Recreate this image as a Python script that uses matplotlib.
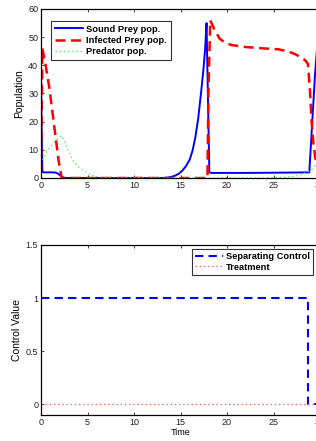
import matplotlib
matplotlib.use("Agg")
from matplotlib import pyplot as plt

plt.rcParams['font.family'] = ['Liberation Sans', 'DejaVu Sans']

# sound prey (blue solid)
t_sound = [0, 0.05, 0.15, 0.3, 1.2, 1.6, 1.9, 2.2, 2.5, 13.0, 13.6, 14.0, 14.4, 14.8, 15.2,
           15.6, 16.0, 16.3, 16.6, 16.9, 17.2, 17.45, 17.65, 17.8, 18.1, 18.3, 22, 26,
           28.85, 29.46, 30]
p_sound = [40, 20, 2.2, 2.0, 2.0, 1.9, 1.4, 0.5, 0, 0, 0.15, 0.4, 0.8, 1.5, 2.6,
           4.3, 6.6, 9.8, 14.5, 21, 30, 38, 46, 55, 2, 1.8, 1.8, 1.9,
           2, 36.5, 60]

# infected prey (red dashed)
t_inf = [0, 0.15, 0.5, 0.9, 1.4, 1.9, 2.2, 2.35, 17.9, 18.0, 18.2, 18.6, 19.2, 19.8,
         20.5, 22, 24, 25.5, 26.5, 27.3, 28.0, 28.4, 28.7, 28.9, 29.1, 29.3, 29.5, 29.8, 30]
p_inf = [2, 46, 40, 32, 19, 6, 0.5, 0, 0, 30, 56, 53, 49.5, 48,
         47.2, 46.5, 46, 45.7, 45, 44, 42.8, 41.8, 40.5, 32, 20, 12, 7, 3, 1]

# predator (green dotted)
t_pred = [0, 0.5, 1.0, 1.5, 2.15, 2.5, 2.9, 3.4, 4.0, 4.5, 5.4, 6.2, 7.5, 24, 26, 26.8,
          27.8, 28.6, 29.1, 29.5, 30]
p_pred = [5, 8.8, 11, 13, 15, 13.5, 10, 6.4, 4, 2.8, 1, 0.4, 0, 0, 0.2, 0.4,
          1.0, 2, 3, 4.5, 6]

# controls
t_ctrl = [0, 28.75, 28.75, 30]
u_sep = [1, 1, 0, 0]
t_treat = [0, 30]
u_treat = [0, 0]

fig = plt.figure(figsize=(3.16, 4.41), dpi=100)
ax1 = fig.add_axes([41 / 316, 1 - 178 / 441, 279 / 316, 169 / 441])
ax2 = fig.add_axes([41 / 316, 1 - 415 / 441, 279 / 316, 170 / 441])

ax1.plot(t_sound, p_sound, color='#0000ff', lw=1.4, label='Sound Prey pop.')
ax1.plot(t_inf, p_inf, color='#ff0000', lw=1.8, ls=(0, (4, 2.2)), label='Infected Prey pop.')
ax1.plot(t_pred, p_pred, color='#55ee55', lw=1.0, ls=(0, (1, 2)), label='Predator pop.')
ax1.set_xlim(0, 30)
ax1.set_ylim(0, 60)
ax1.set_yticks([0, 10, 20, 30, 40, 50, 60])
ax1.set_xticks([0, 5, 10, 15, 20, 25, 30])
ax1.set_ylabel('Population', fontsize=7.5, labelpad=3)
leg1 = ax1.legend(loc='upper left', bbox_to_anchor=(0.036, 0.929), borderaxespad=0,
                  prop={'weight': 'bold', 'size': 6.7}, handlelength=3.0,
                  labelspacing=0.25, borderpad=0.4, handletextpad=0.4, fancybox=False)

ax2.plot(t_ctrl, u_sep, color='#0000ff', lw=1.5, ls=(0, (4, 2.5)), label='Separating Control')
ax2.plot(t_treat, u_treat, color='#ff6666', lw=1.0, ls=(0, (1, 2)), label='Treatment')
ax2.set_xlim(0, 30)
ax2.set_ylim(-0.1, 1.5)
ax2.set_yticks([0, 0.5, 1, 1.5])
ax2.set_yticklabels(['0', '0.5', '1', '1.5'])
ax2.set_xticks([0, 5, 10, 15, 20, 25, 30])
ax2.set_ylabel('Control Value', fontsize=7.5, labelpad=3)
ax2.set_xlabel('Time', fontsize=6.5, labelpad=1)
leg2 = ax2.legend(loc='upper right', bbox_to_anchor=(0.975, 0.976), borderaxespad=0,
                  prop={'weight': 'bold', 'size': 6.7}, handlelength=3.0,
                  labelspacing=0.2, borderpad=0.3, handletextpad=0.4, fancybox=False)

for leg in (leg1, leg2):
    leg.get_frame().set_edgecolor('black')
    leg.get_frame().set_linewidth(0.8)

for ax in (ax1, ax2):
    ax.tick_params(direction='in', length=2.5, width=0.6, labelsize=6.5, pad=2,
                   top=True, right=True, colors='#222222')
    for s in ax.spines.values():
        s.set_linewidth(0.9)

fig.savefig('out.png', dpi=100)
